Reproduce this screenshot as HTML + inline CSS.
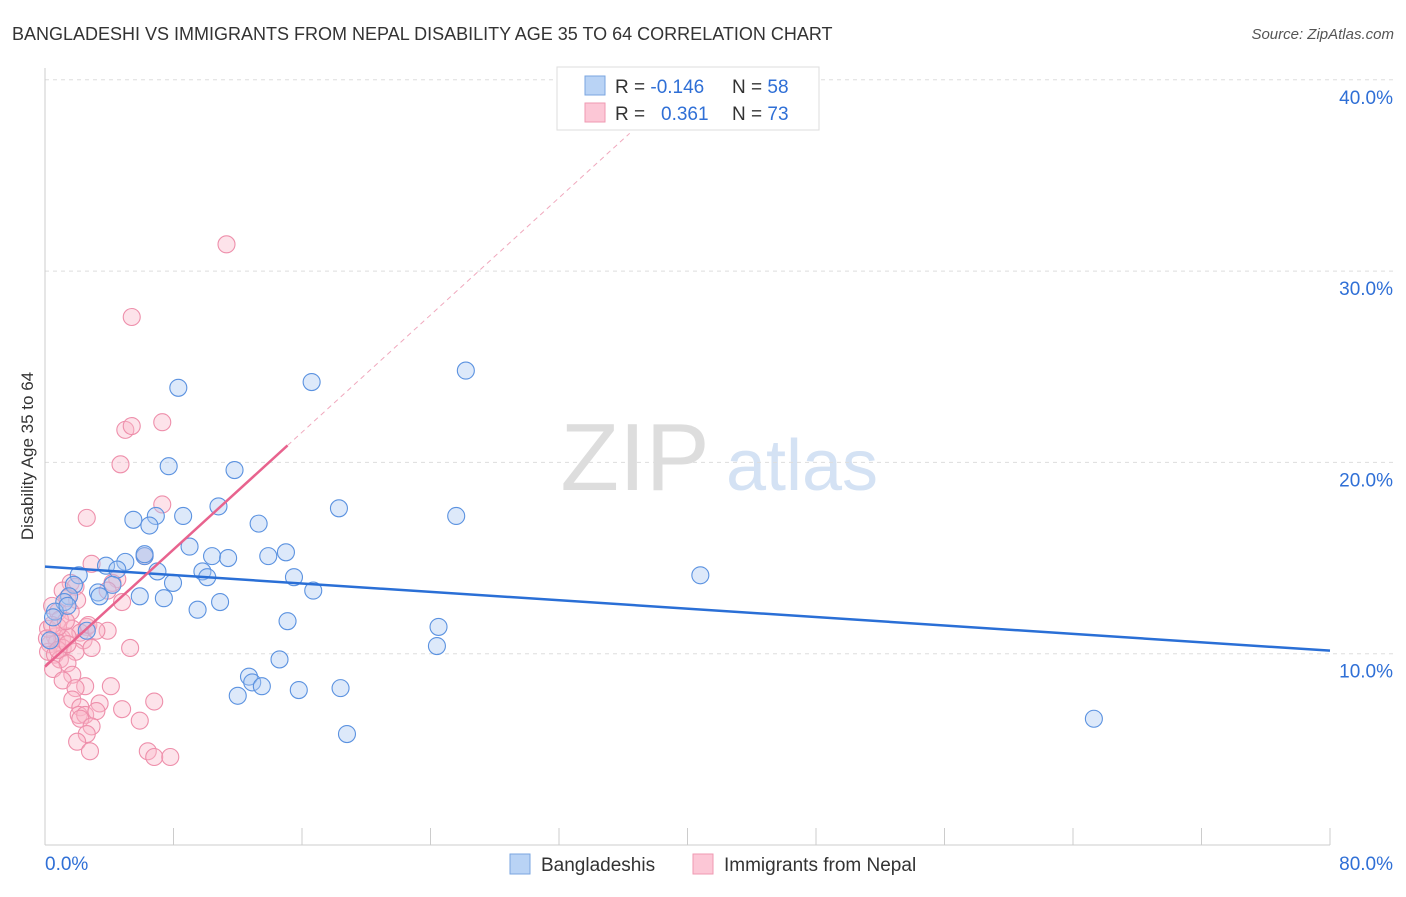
<!DOCTYPE html>
<html><head><meta charset="utf-8"><style>
body{margin:0;background:#fff;font-family:"Liberation Sans",sans-serif}
svg text{font-family:"Liberation Sans",sans-serif}
</style></head><body>
<svg id="c" width="1406" height="892">
<text x="12" y="40" font-size="18" fill="#333">BANGLADESHI VS IMMIGRANTS FROM NEPAL DISABILITY AGE 35 TO 64 CORRELATION CHART</text>
<text x="1394" y="39" font-size="15" fill="#555" text-anchor="end" font-style="italic">Source: ZipAtlas.com</text>
<g><text x="635" y="490" font-size="96" font-family="Liberation Serif" fill="#ddd" text-anchor="middle">ZIP</text><text x="802" y="490" font-size="72" fill="#d4e2f4" text-anchor="middle">atlas</text></g>
<g id="grid"></g><g id="axes"></g><g id="pts"></g><g id="lines"></g>
<text transform="translate(33,456) rotate(-90)" font-size="17" fill="#333" text-anchor="middle">Disability Age 35 to 64</text>
<g>
<rect x="557" y="67" width="262" height="63" fill="#fff" stroke="#ddd"/>
<rect x="585" y="76" width="20" height="19" fill="#b9d3f5" stroke="#7aa6e0"/>
<rect x="585" y="103" width="20" height="19" fill="#fcc7d6" stroke="#ef9ab2"/>
<text x="615" y="93" font-size="19" fill="#333">R = <tspan fill="#2f6fd6">-0.146</tspan><tspan x="732">N = </tspan><tspan fill="#2f6fd6">58</tspan></text>
<text x="615" y="120" font-size="19" fill="#333">R = <tspan x="661" fill="#2f6fd6">0.361</tspan><tspan x="732">N = </tspan><tspan fill="#2f6fd6">73</tspan></text>
</g>
<g>
<rect x="510" y="854" width="20" height="20" fill="#b9d3f5" stroke="#7aa6e0"/><text x="541" y="871" font-size="19" fill="#333">Bangladeshis</text>
<rect x="693" y="854" width="20" height="20" fill="#fcc7d6" stroke="#ef9ab2"/><text x="724" y="871" font-size="19" fill="#333">Immigrants from Nepal</text>
</g>
</svg>
<script>
const xTicks=[0,80];
const yTicks=[10,20,30,40];
const blueX=[8.3,16.6,26.2,7.7,11.8,5.5,6.9,6.5,8.6,10.8,13.3,18.3,25.6,9.0,10.4,11.4,13.9,15.0,6.2,5.0,3.8,4.5,7.0,2.1,9.8,10.1,7.97,15.5,16.7,40.8,5.9,7.4,10.9,9.5,3.3,1.8,1.5,1.2,0.62,1.4,15.1,24.5,24.4,14.6,12.7,12.9,13.5,12.0,15.8,18.4,18.8,65.3,0.5,0.31,2.6,4.2,6.2,3.4];
const blueY=[23.9,24.2,24.8,19.8,19.6,17.0,17.2,16.7,17.2,17.7,16.8,17.6,17.2,15.6,15.1,15.0,15.1,15.3,15.1,14.8,14.6,14.4,14.3,14.1,14.3,14.0,13.7,14.0,13.3,14.1,13.0,12.9,12.7,12.3,13.2,13.6,13.0,12.7,12.2,12.5,11.7,11.4,10.4,9.7,8.8,8.5,8.3,7.8,8.1,8.2,5.8,6.6,11.9,10.7,11.2,13.6,15.2,13.0];
const pinkX=[11.3,5.4,7.3,5.0,5.4,4.7,2.6,7.3,6.2,2.9,4.5,4.2,1.6,1.1,1.9,1.4,2.0,3.9,4.8,0.44,0.81,1.6,0.93,2.6,1.7,2.2,3.9,0.62,1.06,1.4,2.4,0.31,0.75,1.1,0.19,0.62,1.9,2.9,5.3,0.93,1.4,0.5,1.7,1.1,2.5,4.1,1.9,6.8,3.4,1.7,2.2,4.8,2.1,2.5,3.2,2.2,5.9,2.9,2.6,2.0,2.8,6.4,6.8,7.8,0.19,0.44,0.81,1.3,2.7,3.2,0.12,0.81,1.4];
const pinkY=[31.4,27.6,22.1,21.7,21.9,19.9,17.1,17.8,15.1,14.7,13.9,13.7,13.7,13.3,13.5,12.9,12.8,13.3,12.7,12.5,12.2,12.2,11.8,11.4,11.3,11.1,11.2,10.9,10.8,10.9,10.7,10.5,10.6,10.3,10.1,9.95,10.1,10.3,10.3,9.7,9.5,9.2,8.9,8.6,8.3,8.3,8.2,7.5,7.4,7.6,7.2,7.1,6.8,6.8,7.0,6.6,6.5,6.2,5.8,5.4,4.9,4.9,4.6,4.6,11.3,11.5,11.4,11.7,11.5,11.2,10.8,10.2,10.5];
const blueFit=[14.55,-0.0549];
const pinkFit=[9.32,0.766];
const NS='http://www.w3.org/2000/svg';
const X=v=>45+v*16.0625, Y=v=>845-v*19.13;
function mk(p,t,a){const e=document.createElementNS(NS,t);for(const k in a)e.setAttribute(k,a[k]);document.getElementById(p).appendChild(e);return e;}
yTicks.forEach(v=>{
 const g=mk('grid','line',{x1:45,x2:1394,y1:Y(v),y2:Y(v),stroke:'#ddd','stroke-dasharray':'4,4'});
 
 
 const t=mk('grid','text',{x:1393,y:Y(v)+24,'font-size':19,fill:'#2f6fd6','text-anchor':'end'});t.textContent=v.toFixed(1)+'%';
 
 
});
mk('axes','line',{x1:45,x2:45,y1:68,y2:845,stroke:'#ccc'});
mk('axes','line',{x1:45,x2:1330,y1:845,y2:845,stroke:'#ccc'});
for(let i=0;i<=10;i++){const l=mk('axes','line',{x1:X(i*8),x2:X(i*8),y1:828,y2:845,stroke:'#ccc'});
 
 }
xTicks.forEach((v,i)=>{const t=mk('axes','text',{x:i?1393:45,y:870,'font-size':19,fill:'#2f6fd6','text-anchor':i?'end':'start'});t.textContent=v.toFixed(1)+'%';
 
 });
function pts(xs,ys,f,s,n){xs.forEach((x,i)=>{const c=mk('pts','circle',{cx:X(x),cy:Y(ys[i]),r:8.5,fill:f,'fill-opacity':0.4,stroke:s,'stroke-width':1.1});
 
 });}
pts(pinkX,pinkY,'#f9b8cb','#ee8fab','nepal-point');
pts(blueX,blueY,'#a9c9f2','#5b92e0','bangladeshi-point');
const bl=mk('lines','line',{x1:X(0),y1:Y(blueFit[0]),x2:X(80),y2:Y(blueFit[0]+blueFit[1]*80),stroke:'#2a6fd6','stroke-width':2.5});


const pl=mk('lines','line',{x1:X(0),y1:Y(pinkFit[0]),x2:X(15.1),y2:Y(pinkFit[0]+pinkFit[1]*15.1),stroke:'#e8638e','stroke-width':2.5});


const pd=mk('lines','line',{x1:X(15.1),y1:Y(pinkFit[0]+pinkFit[1]*15.1),x2:X(36.4),y2:Y(pinkFit[0]+pinkFit[1]*36.4),stroke:'#f0a8bd','stroke-width':1,'stroke-dasharray':'5,4'});


</script>
</body></html>
